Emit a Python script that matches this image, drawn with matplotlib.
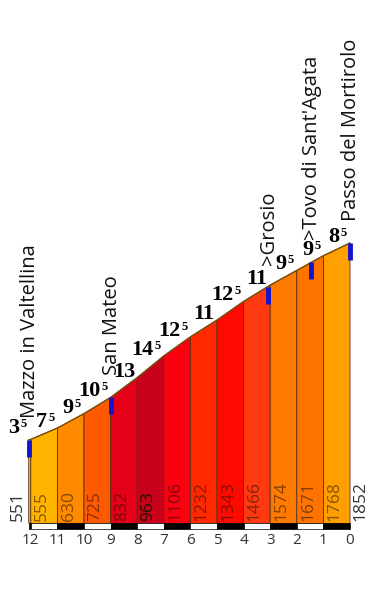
import matplotlib
matplotlib.use("Agg")
import matplotlib.pyplot as plt
import matplotlib.transforms as mtransforms
from matplotlib.patches import Polygon, Rectangle
import numpy as np

# km remaining to the top, and altitude (m) at each mark
km_marks = [12.08, 12, 11, 10, 9, 8, 7, 6, 5, 4, 3, 2, 1, 0]
altitudes = [551, 555, 630, 725, 832, 963, 1106, 1232, 1343, 1466, 1574, 1671, 1768, 1852]
# average gradient (%) of each stretch
gradients = [3.5, 7.5, 9.5, 10.5, 13, 14.5, 12.5, 11, 12.5, 11, 9.5, 9.5, 8.5]
seg_colors = ["#f0c030", "#ffb400", "#ff8a00", "#ff5a00", "#e40018", "#c8001a",
              "#fa0010", "#ff2800", "#ff0a00", "#ff3a10", "#ff7a00", "#ff7400", "#ffa000"]

places = ["Mazzo in Valtellina", "San Mateo", ">Grosio", ">Tovo di Sant'Agata", "Passo del Mortirolo"]
place_km = [12.08, 9, 3.1, 1.45, 0]

tick_km = list(range(12, -1, -1))

fig = plt.figure(figsize=(3.79, 6.0), dpi=100)
ax = fig.add_axes([0, 0, 1, 1])
ax.set_xlim(13.158, -1.090)
ax.set_ylim(-506, 3457)
ax.axis("off")

px_m = 1 / 0.1514  # metres per pixel (vertical)


def off(dx=0, dy=0):
    return mtransforms.offset_copy(ax.transData, fig=fig, x=dx, y=dy, units="dots")


# stretches
for i in range(len(gradients)):
    x0, x1 = km_marks[i], km_marks[i + 1]
    y0, y1 = altitudes[i], altitudes[i + 1]
    poly = Polygon([(x0, 0), (x0, y0), (x1, y1), (x1, 0)], closed=True,
                   facecolor=seg_colors[i], edgecolor="#5a3010", lw=0.6)
    ax.add_patch(poly)

ax.plot(km_marks, altitudes, color="#7a5010", lw=1.0)

# km strip
for i in range(len(km_marks) - 1):
    x0, x1 = km_marks[i], km_marks[i + 1]
    fc = "black" if i % 2 == 0 else "white"
    ax.add_patch(Rectangle((x1, -40), x0 - x1, 40, facecolor=fc, edgecolor="black", lw=0.5))

for k in tick_km:
    ax.text(k, -116, str(k), ha="center", va="center", fontsize=11,
            family="Open Sans", color="#333333")

# altitude labels
ax.text(12.48, 14, str(altitudes[0]), rotation=90, ha="center", va="bottom",
        fontsize=12.5, family="Open Sans", color="#333333")
ax.text(-0.41, 14, str(altitudes[-1]), rotation=90, ha="center", va="bottom",
        fontsize=12.5, family="Open Sans", color="#333333")
for i in range(1, len(altitudes) - 1):
    mid = (km_marks[i] + km_marks[i + 1]) / 2
    a = 0.95 if altitudes[i] == 963 else 0.55
    ax.text(mid, 14, str(altitudes[i]), rotation=90, ha="center", va="bottom",
            fontsize=12.5, family="Open Sans", color="#201008", alpha=a,
            transform=off(-2, 0))

# gradient labels
for i, g in enumerate(gradients):
    mid = (km_marks[i] + km_marks[i + 1]) / 2
    top = altitudes[i + 1]
    dx, dy = 0, 1
    if km_marks[i] - km_marks[i + 1] < 0.5:
        dx, dy = -13, 6
    whole = int(g)
    frac = int(round((g - whole) * 10))
    if frac:
        ax.text(mid, top, str(whole), ha="right", va="baseline", fontsize=16,
                family="Liberation Serif", weight="bold", transform=off(dx + 3, dy))
        ax.text(mid, top, str(frac), ha="left", va="baseline", fontsize=9,
                family="Liberation Serif", weight="bold", transform=off(dx + 4, dy + 6))
    else:
        ax.text(mid, top, str(whole), ha="center", va="baseline", fontsize=16,
                family="Liberation Serif", weight="bold", transform=off(dx, dy))

# place markers and names
xs = km_marks[::-1]
ys = altitudes[::-1]
for name, k in zip(places, place_km):
    h = np.interp(k, xs, ys)
    ax.plot([k, k], [h, h - 17 * px_m], color="#1414d0", lw=3.5, solid_capstyle="butt")
    ax.text(k, h + 22 * px_m, name, rotation=90, ha="center", va="bottom",
            fontsize=14.5, family="Open Sans", color="#111111", transform=off(1, 0))

fig.savefig("out.png", dpi=100)
